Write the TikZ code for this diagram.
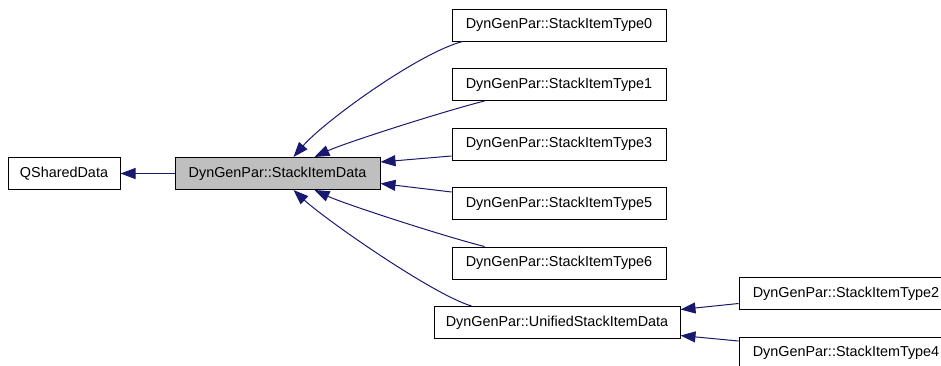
\documentclass[tikz,border=0pt]{standalone}
\usepackage{fontspec}
\setmainfont{Liberation Sans}
\usetikzlibrary{arrows.meta,calc}
\definecolor{edgeblue}{HTML}{191970}
\definecolor{hlgray}{HTML}{BFBFBF}
\begin{document}
\begin{tikzpicture}[x=1pt,y=-1pt,
  cls/.style={draw=black,line width=1pt,rectangle,inner sep=0pt,
    minimum height=32pt,fill=white,font=\fontsize{14.4}{17}\selectfont},
  current/.style={cls,fill=hlgray},
  edge/.style={draw=edgeblue,line width=1pt,
    -{Triangle[length=15pt,width=11pt]},fill=none}]
\useasboundingbox (0,0) rectangle (941,365);
\clip (0,0) rectangle (941,365);

% class boxes
\node[cls,minimum width=112pt]     (qsd) at (64,173.5)  {QSharedData};
\node[current,minimum width=205pt] (sid) at (277.5,173.5) {DynGenPar::StackItemData};
\node[cls,minimum width=214pt] (t0) at (559,25)    {DynGenPar::StackItemType0};
\node[cls,minimum width=214pt] (t1) at (559,84.5)  {DynGenPar::StackItemType1};
\node[cls,minimum width=214pt] (t3) at (559,144)   {DynGenPar::StackItemType3};
\node[cls,minimum width=214pt] (t5) at (559,203.5) {DynGenPar::StackItemType5};
\node[cls,minimum width=214pt] (t6) at (559,263)   {DynGenPar::StackItemType6};
\node[cls,minimum width=246pt] (u)  at (557,322.5) {DynGenPar::UnifiedStackItemData};
\node[cls,minimum width=214pt] (t2) at (846,293.5) {DynGenPar::StackItemType2};
\node[cls,minimum width=214pt] (t4) at (846,353)   {DynGenPar::StackItemType4};

% inheritance arrows
\draw[edge] (sid.west) -- (qsd.east);
\draw[edge] ($(t0.south west)+(11,0)$) .. controls +(-45,12) and +(30,-35) .. ($(sid.north)+(16,0)$);
\draw[edge] ($(t1.south west)+(33,0)$) .. controls +(-40,10) and +(30,-14) .. ($(sid.north)+(37,0)$);
\draw[edge] ($(t3.west)+(0,12)$) -- ($(sid.east)+(0,-11.5)$);
\draw[edge] ($(t5.west)+(0,-11.5)$) -- ($(sid.east)+(0,10)$);
\draw[edge] ($(t6.north west)+(33,0)$) .. controls +(-40,-10) and +(30,14) .. ($(sid.south)+(37,0)$);
\draw[edge] ($(u.north west)+(38,0)$) .. controls +(-40,-12) and +(30,28) .. ($(sid.south)+(16,0)$);
\draw[edge] ($(t2.west)+(0,10)$) -- ($(u.east)+(0,-13)$);
\draw[edge] ($(t4.west)+(0,-12)$) -- ($(u.east)+(0,13)$);
\end{tikzpicture}
\end{document}
